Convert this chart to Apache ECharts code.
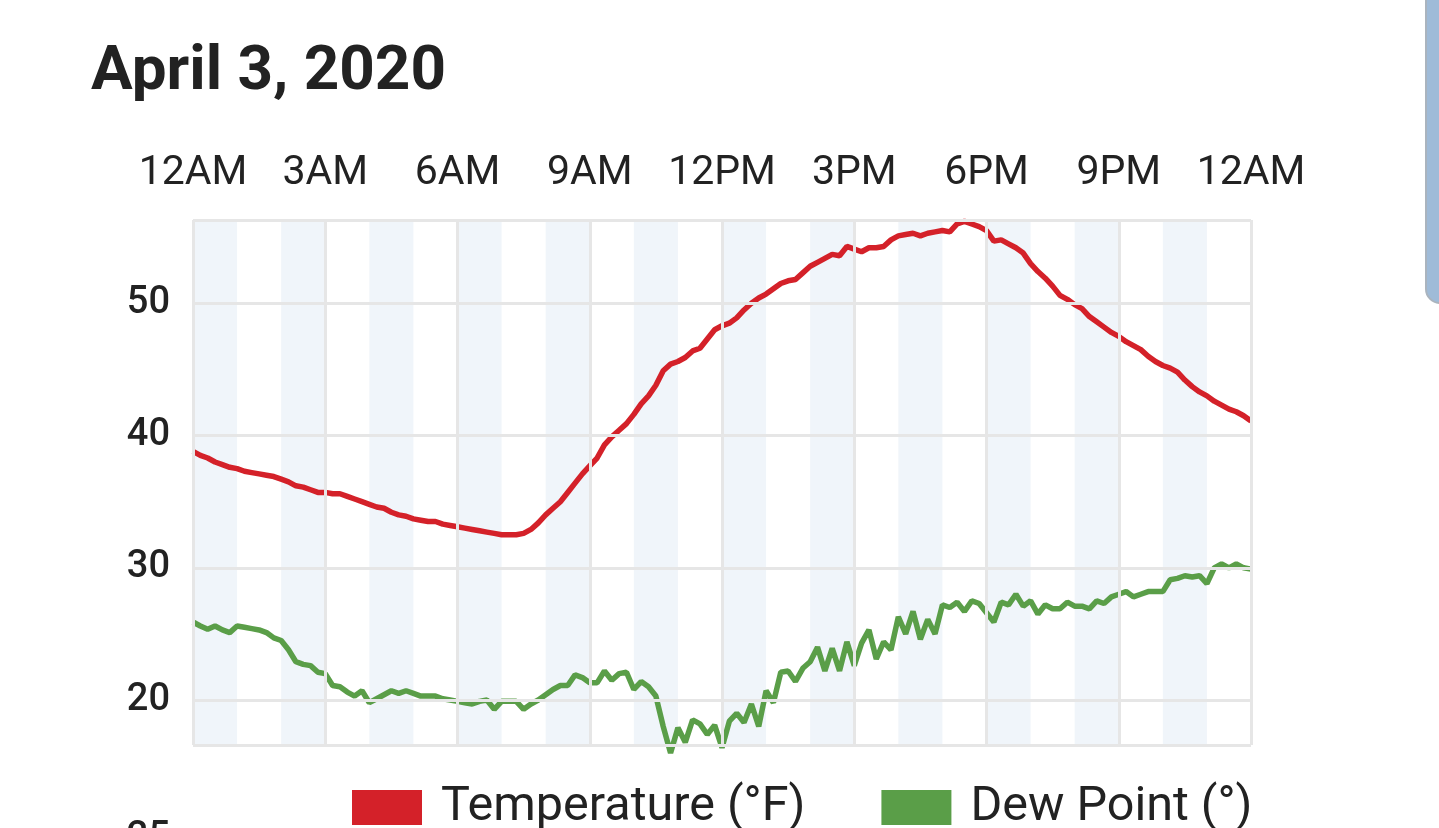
<!DOCTYPE html>
<html>
<head>
<meta charset="utf-8">
<script src="https://cdn.jsdelivr.net/npm/echarts@6/dist/echarts.min.js"></script>
<style>
  html, body { margin: 0; padding: 0; background: #fff; }
  #chart { width: 1439px; height: 828px; }
</style>
</head>
<body>
<div id="chart"></div>
<script>
// readings every 10 minutes, midnight to midnight
var stepHours = 10 / 60;
var tickLabels = ['12AM', '3AM', '6AM', '9AM', '12PM', '3PM', '6PM', '9PM', '12AM'];
var yTicks = [20, 30, 40, 50];
var shadedHours = [0, 2, 4, 6, 8, 10, 12, 14, 16, 18, 20, 22];

var temperature = [
  38.8, 38.5, 38.3, 38.0, 37.8, 37.6, 37.5, 37.3, 37.2, 37.1,
  37.0, 36.9, 36.7, 36.5, 36.2, 36.1, 35.9, 35.7, 35.7, 35.6,
  35.6, 35.4, 35.2, 35.0, 34.8, 34.6, 34.5, 34.2, 34.0, 33.9,
  33.7, 33.6, 33.5, 33.5, 33.3, 33.2, 33.1, 33.0, 32.9, 32.8,
  32.7, 32.6, 32.5, 32.5, 32.5, 32.6, 32.9, 33.4, 34.0, 34.5,
  35.0, 35.7, 36.4, 37.1, 37.7, 38.3, 39.3, 39.9, 40.4, 40.9,
  41.6, 42.4, 43.0, 43.8, 44.9, 45.4, 45.6, 45.9, 46.4, 46.6,
  47.3, 48.0, 48.3, 48.5, 48.9, 49.5, 50.0, 50.4, 50.7, 51.1,
  51.5, 51.7, 51.8, 52.3, 52.8, 53.1, 53.4, 53.7, 53.6, 54.3,
  54.1, 53.9, 54.2, 54.2, 54.3, 54.8, 55.1, 55.2, 55.3, 55.1,
  55.3, 55.4, 55.5, 55.4, 56.0, 56.2, 56.0, 55.8, 55.5, 54.7,
  54.8, 54.5, 54.2, 53.8, 53.0, 52.4, 51.9, 51.3, 50.6, 50.3,
  49.9, 49.6, 49.0, 48.6, 48.2, 47.8, 47.5, 47.1, 46.8, 46.5,
  46.0, 45.6, 45.3, 45.1, 44.8, 44.2, 43.7, 43.3, 43.0, 42.6,
  42.3, 42.0, 41.8, 41.5, 41.1
];

var dewPoint = [
  25.9, 25.6, 25.35, 25.6, 25.3, 25.1, 25.6, 25.5, 25.4, 25.3,
  25.1, 24.7, 24.5, 23.8, 22.9, 22.7, 22.6, 22.1, 22.0, 21.1,
  21.0, 20.6, 20.3, 20.7, 19.8, 20.1, 20.4, 20.7, 20.5, 20.7,
  20.5, 20.3, 20.3, 20.3, 20.1, 20.0, 19.9, 19.8, 19.7, 19.9,
  20.0, 19.3, 19.9, 19.9, 19.9, 19.3, 19.7, 20.0, 20.4, 20.8,
  21.1, 21.1, 21.9, 21.7, 21.3, 21.3, 22.2, 21.5, 22.0, 22.1,
  20.8, 21.4, 21.0, 20.3, 18.0, 16.0, 17.9, 16.8, 18.5, 18.2,
  17.4, 18.1, 16.4, 18.4, 19.0, 18.3, 19.7, 18.0, 20.7, 19.8,
  22.1, 22.2, 21.4, 22.4, 22.9, 24.0, 22.2, 23.9, 22.2, 24.4,
  22.6, 24.3, 25.3, 23.1, 24.4, 23.8, 26.3, 25.0, 26.7, 24.6,
  26.1, 25.0, 27.2, 27.0, 27.4, 26.7, 27.5, 27.3, 26.6, 25.9,
  27.4, 27.2, 28.0, 27.1, 27.5, 26.5, 27.2, 26.9, 26.9, 27.4,
  27.1, 27.1, 26.9, 27.5, 27.3, 27.8, 28.0, 28.2, 27.8, 28.0,
  28.2, 28.2, 28.2, 29.1, 29.2, 29.4, 29.3, 29.4, 28.8, 30.0,
  30.3, 30.0, 30.3, 30.0, 29.9
];

var yMin = 16.6;
var yMax = 56.3;
var gridColor = '#e6e6e6';
var textColor = '#222';

function withTime(values) {
  return values.map(function (v, i) { return [i * stepHours, v]; });
}

var bands = shadedHours.map(function (h) {
  return [{ xAxis: h }, { xAxis: h + 1 }];
});

var gridLines = [];
tickLabels.forEach(function (lbl, i) { gridLines.push({ xAxis: i * 3 }); });
yTicks.forEach(function (v) { gridLines.push({ yAxis: v }); });
gridLines.push({ yAxis: yMin });
gridLines.push({ yAxis: yMax });

var chart = echarts.init(document.getElementById('chart'));

var option = {
  animation: false,
  backgroundColor: '#fff',
  textStyle: { fontFamily: 'Roboto' },
  title: {
    text: 'April 3, 2020',
    left: 86,
    top: 37,
    textStyle: { fontSize: 62, fontWeight: 'bold', color: textColor, fontFamily: 'Roboto' }
  },
  legend: {
    data: ['Temperature (°F)', 'Dew Point (°)'],
    left: 347,
    top: 778,
    icon: 'rect',
    itemWidth: 70,
    itemHeight: 35,
    itemGap: 76,
    textStyle: { fontSize: 48.5, color: textColor, padding: [0, 0, 0, 14] }
  },
  grid: { left: 193, right: 188, top: 220, bottom: 83 },
  xAxis: {
    type: 'value',
    position: 'top',
    min: 0,
    max: 24,
    interval: 3,
    axisLine: { show: false },
    axisTick: { show: false },
    splitLine: { show: false },
    axisLabel: {
      fontSize: 41,
      color: textColor,
      margin: 26,
      showMinLabel: true,
      showMaxLabel: true,
      formatter: function (v) { return tickLabels[Math.round(v / 3)]; }
    }
  },
  yAxis: {
    type: 'value',
    min: yMin,
    max: yMax,
    axisLine: { show: false },
    axisTick: { show: false },
    splitLine: { show: false },
    axisLabel: {
      customValues: yTicks,
      fontSize: 38,
      fontWeight: 500,
      color: textColor,
      margin: 23
    }
  },
  graphic: [
    {
      type: 'rect',
      shape: { x: 1426, y: -20, width: 40, height: 323, r: 14 },
      style: { fill: '#9fbbd8', stroke: '#aab4be', lineWidth: 2 }
    },
    {
      type: 'text',
      style: { text: '25', x: 170, y: 819, align: 'right', verticalAlign: 'top', font: '500 38px Roboto', fill: textColor }
    }
  ],
  series: [
    {
      name: 'bands',
      type: 'line',
      data: [],
      z: 0,
      silent: true,
      markArea: {
        silent: true,
        itemStyle: { color: '#f0f5fa' },
        data: bands
      }
    },
    {
      name: 'grid',
      type: 'line',
      data: [],
      z: 1,
      silent: true,
      markLine: {
        silent: true,
        symbol: ['none', 'none'],
        label: { show: false },
        lineStyle: { color: gridColor, width: 3, type: 'solid' },
        data: gridLines
      }
    },
    {
      name: 'Temperature (°F)',
      type: 'line',
      data: withTime(temperature),
      showSymbol: false,
      z: 3,
      color: '#d42129',
      lineStyle: { width: 5.5, color: '#d42129' }
    },
    {
      name: 'Dew Point (°)',
      type: 'line',
      data: withTime(dewPoint),
      showSymbol: false,
      clip: false,
      z: 3,
      color: '#5a9e48',
      lineStyle: { width: 5.5, color: '#5a9e48' }
    }
  ]
};

chart.setOption(option);
</script>
</body>
</html>
